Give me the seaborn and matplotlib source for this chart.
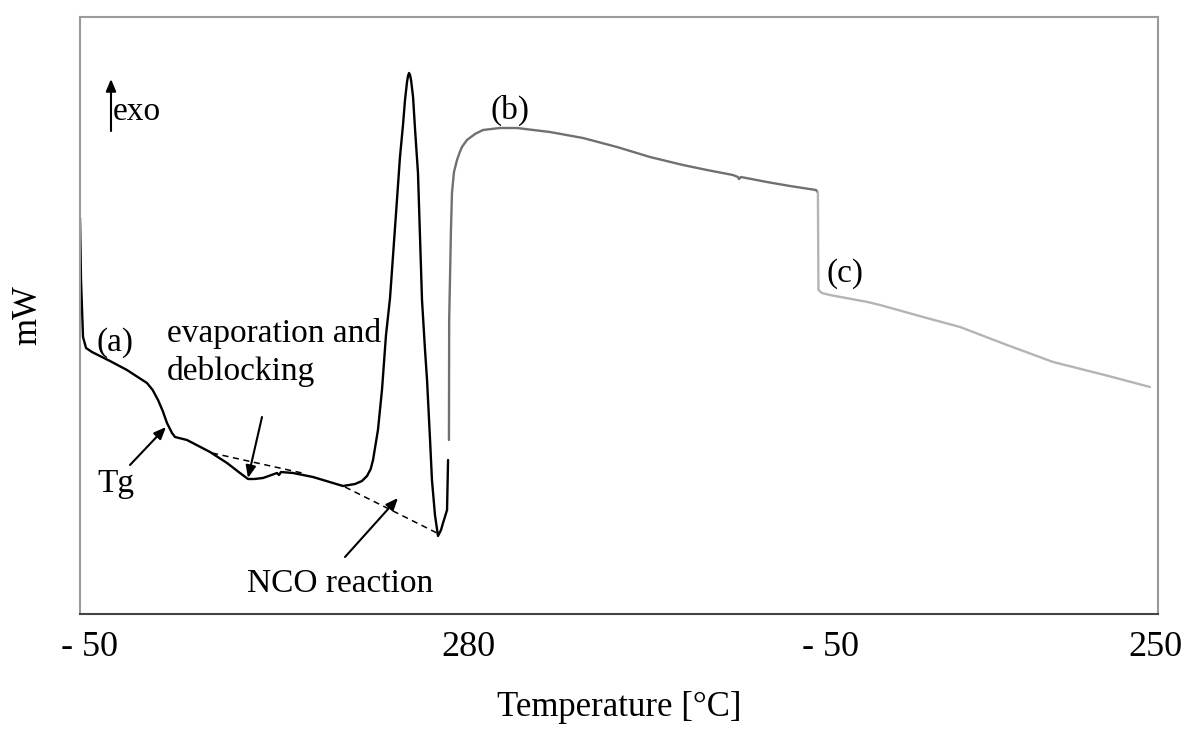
import numpy as np
import pandas as pd
import matplotlib
matplotlib.use("Agg")
import matplotlib.pyplot as plt
import seaborn as sns

# ---------------- data (temperature in °C, heat flow in arbitrary mW units) -------------
# (a) first heating  -50 -> 280 °C
heat1_T = [-50.0, -49.1, -47.3, -44.6, -39.3, -23.2, -8.0, 3.0, 9.9, 15.0, 19.8, 24.0,
           27.8, 32.3, 35.0, 45.7, 66.3, 81.5, 93.1, 100.3, 106.0, 113.7, 126.2, 128.0,
           129.8, 140.5, 158.4, 185.2, 196.0, 202.2, 206.7, 210.0, 212.1, 216.5, 220.1,
           223.7, 227.3, 229.9, 233.5, 236.2, 238.9, 240.7, 242.5, 243.4, 244.3, 245.2,
           246.1, 247.9, 249.6, 252.3, 255.9, 258.6, 260.4, 263.1, 264.8, 267.5, 270.2,
           272.9, 274.7, 278.3, 279.2]
heat1_mW = [3.96, 3.34, 2.77, 2.66, 2.62, 2.53, 2.44, 2.36, 2.31, 2.24, 2.14, 2.03,
            1.91, 1.81, 1.77, 1.74, 1.62, 1.51, 1.41, 1.35, 1.35, 1.36, 1.41, 1.39,
            1.42, 1.41, 1.37, 1.28, 1.30, 1.33, 1.38, 1.45, 1.54, 1.84, 2.24,
            2.79, 3.16, 3.57, 4.14, 4.57, 4.89, 5.14, 5.32, 5.38, 5.41, 5.39,
            5.34, 5.17, 4.86, 4.41, 3.14, 2.64, 2.34, 1.74, 1.34, 0.99, 0.78,
            0.84, 0.91, 1.04, 1.54]

# (b) cooling  280 -> -50 °C
cool_T = [280.0, 279.8, 278.2, 277.3, 275.5, 272.8, 270.6, 268.4, 263.9, 256.7, 249.6,
          234.4, 219.2, 189.7, 160.1, 129.7, 100.2, 70.7, 49.2, 26.0, 21.5, 20.6, 18.8,
          -4.4, -25.0, -48.3, -49.6]
cool_mW = [1.74, 2.94, 3.84, 4.21, 4.42, 4.54, 4.61, 4.67, 4.74, 4.80, 4.84,
           4.86, 4.86, 4.82, 4.76, 4.67, 4.57, 4.49, 4.44, 4.39, 4.37, 4.35, 4.37,
           4.32, 4.28, 4.24, 4.22]

# (c) second heating  -50 -> 250 °C
heat2_T = [-50.0, -49.5, -46.4, -39.3, -5.6, 5.6, 44.1, 77.2, 119.2, 160.4, 210.0, 247.0]
heat2_mW = [4.22, 3.24, 3.21, 3.19, 3.12, 3.09, 2.97, 2.87, 2.69, 2.52, 2.38, 2.27]

# dashed baselines on the first heating
base1_T = [68.1, 148.6]
base1_mW = [1.61, 1.41]
base2_T = [187.0, 269.3]
base2_mW = [1.27, 0.81]

tick_labels = ["- 50", "280", "- 50", "250"]

# ---------------- build a running (program) x-coordinate ----------------
T_MIN, T_MAX = -50.0, 280.0
SPAN = T_MAX - T_MIN  # 330


def prog_heat1(T):
    return np.asarray(T) - T_MIN


def prog_cool(T):
    return SPAN + (T_MAX - np.asarray(T))


def prog_heat2(T):
    return 2 * SPAN + (np.asarray(T) - T_MIN)


df = pd.concat([
    pd.DataFrame({"x": prog_heat1(heat1_T), "mW": heat1_mW, "run": "a"}),
    pd.DataFrame({"x": prog_cool(cool_T), "mW": cool_mW, "run": "b"}),
    pd.DataFrame({"x": prog_heat2(heat2_T), "mW": heat2_mW, "run": "c"}),
], ignore_index=True)

sns.set_theme(style="white")
plt.rcParams["font.family"] = ["Liberation Serif", "DejaVu Serif"]
plt.rcParams["text.color"] = "black"
plt.rcParams["axes.labelcolor"] = "black"
plt.rcParams["xtick.color"] = "black"

fig = plt.figure(figsize=(11.84, 7.38), dpi=100)
ax = fig.add_axes([80 / 1184, 1 - 614 / 738, 1078 / 1184, 597 / 738])

palette = {"a": "#000000", "b": "#707070", "c": "#b4b4b4"}
sns.lineplot(data=df, x="x", y="mW", hue="run", palette=palette, sort=False,
             estimator=None, linewidth=1.7, legend=False, ax=ax)

ax.plot(prog_heat1(base1_T), base1_mW, ls=(0, (4, 3)), color="black", lw=1.1)
ax.plot(prog_heat1(base2_T), base2_mW, ls=(0, (4, 3)), color="black", lw=1.1)

ax.set_xlim(0, 964.2)
ax.set_ylim(0, 5.97)
ax.set_yticks([])

# tick labels (placed at their visual centres)
ax.set_xticks([8.1, 347.0, 671.7, 961.5])
ax.set_xticklabels(tick_labels, fontsize=26)
ax.tick_params(axis="x", length=0, pad=12)

ax.set_xlabel("Temperature [°C]", fontsize=25, labelpad=20)
ax.set_ylabel("mW", fontsize=25, labelpad=26)

for side in ["top", "left", "right"]:
    ax.spines[side].set_color("#9a9a9a")
    ax.spines[side].set_linewidth(1.5)
ax.spines["bottom"].set_color("#444444")
ax.spines["bottom"].set_linewidth(1.5)


def fp(x, y):
    """reference pixel (from top-left) -> figure pixels"""
    return (x, 738 - y)


txt_kw = dict(xycoords="figure pixels", fontsize=24, va="baseline", ha="left",
              color="black")
ax.annotate("exo", fp(113, 120), **txt_kw)
ax.annotate("(a)", fp(97, 351), **txt_kw)
ax.annotate("evaporation and", fp(167, 342), **txt_kw)
ax.annotate("deblocking", fp(167, 380), **txt_kw)
ax.annotate("Tg", fp(97, 492), **txt_kw)
ax.annotate("NCO reaction", fp(247, 592), **txt_kw)
ax.annotate("(b)", fp(490, 119), **txt_kw)
ax.annotate("(c)", fp(826, 282), **txt_kw)

arrow_kw = dict(arrowstyle="-|>,head_length=0.6,head_width=0.25", color="black",
                lw=1.5, shrinkA=0, shrinkB=0)
for tail, head in [((111, 131), (111, 79)),
                   ((130, 465), (166, 427)),
                   ((262, 417), (248, 478)),
                   ((345, 557), (398, 498))]:
    ax.annotate("", xy=fp(*head), xytext=fp(*tail), xycoords="figure pixels",
                textcoords="figure pixels", arrowprops=arrow_kw)

fig.savefig("out.png", dpi=100)
